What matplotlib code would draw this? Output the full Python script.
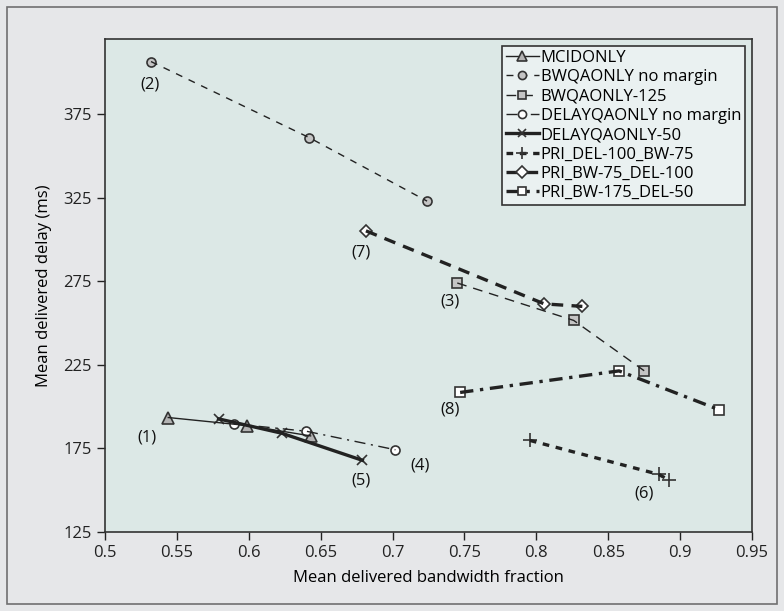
import matplotlib.pyplot as plt
from matplotlib.patches import Rectangle

plt.rcParams['font.family'] = ['Open Sans', 'DejaVu Sans']

# series data (bandwidth fraction, delay ms)
mcid_x = [0.544, 0.599, 0.643]
mcid_y = [193.5, 188.7, 182.5]
bwq_nm_x = [0.532, 0.642, 0.724]
bwq_nm_y = [406.5, 361, 323]
bwq125_x = [0.745, 0.826, 0.875]
bwq125_y = [274, 251.6, 221.5]
dq_nm_x = [0.590, 0.640, 0.702]
dq_nm_y = [189.7, 185.3, 174.2]
dq50_x = [0.579, 0.623, 0.679]
dq50_y = [192.7, 184.1, 167.9]
pri1_x = [0.7955, 0.885, 0.8925]
pri1_y = [179.8, 159.5, 156]
pri2_x = [0.6815, 0.8055, 0.832]
pri2_y = [305.2, 261.5, 260]
pri3_x = [0.747, 0.8575, 0.927]
pri3_y = [208.5, 221.4, 198.2]

labels = ['(1)', '(2)', '(3)', '(4)', '(5)', '(6)', '(7)', '(8)']
label_x = [0.529, 0.531, 0.740, 0.719, 0.678, 0.875, 0.678, 0.740]
label_y = [181.5, 393, 262.7, 165, 156, 148, 292.4, 198.2]

fig = plt.figure(figsize=(7.84, 6.11), dpi=100, facecolor='#e6e7e9')
fig.patches.append(Rectangle((7 / 784, 7 / 611), 770 / 784, 597 / 611, transform=fig.transFigure,
                             fill=False, edgecolor='#707070', linewidth=1.2))
ax = fig.add_axes([105 / 784, 79 / 611, 647 / 784, 493 / 611])
ax.set_facecolor('#dce8e6')

dark = '#222222'
series = [
    (mcid_x, mcid_y, 'MCIDONLY', '-', 1.0, '^', '#b3b3b3', 8),
    (bwq_nm_x, bwq_nm_y, 'BWQAONLY no margin', (0, (5, 5)), 1.0, 'o', '#c4c4c4', 6.5),
    (bwq125_x, bwq125_y, 'BWQAONLY-125', (0, (7, 5)), 1.0, 's', '#c4c4c4', 7),
    (dq_nm_x, dq_nm_y, 'DELAYQAONLY no margin', (0, (8, 4, 1.5, 4)), 1.0, 'o', 'white', 6.5),
    (dq50_x, dq50_y, 'DELAYQAONLY-50', '-', 2.4, 'x', 'none', 7),
    (pri1_x, pri1_y, 'PRI_DEL-100_BW-75', (0, (2, 2)), 2.4, '+', 'none', 10),
    (pri2_x, pri2_y, 'PRI_BW-75_DEL-100', (0, (3.5, 2.5)), 2.4, 'D', 'white', 6.5),
    (pri3_x, pri3_y, 'PRI_BW-175_DEL-50', (0, (4, 2, 1, 2)), 2.4, 's', 'white', 7),
]

handles = []
for xs, ys, name, ls, lw, mk, fc, ms in series:
    ax.plot(xs, ys, linestyle='none', marker=mk, markersize=ms, markerfacecolor=fc,
            markeredgecolor='#333333', markeredgewidth=1.2, zorder=2)
    ax.plot(xs, ys, linestyle=ls, linewidth=lw, color=dark, zorder=3)
    h, = ax.plot([], [], linestyle=ls, linewidth=lw, color=dark, marker=mk, markersize=ms * 0.9,
                 markerfacecolor=fc, markeredgecolor='#333333', markeredgewidth=1.2)
    handles.append(h)

for t, x, y in zip(labels, label_x, label_y):
    ax.text(x, y, t, fontsize=12, ha='center', va='center', color='#111111')

ax.set_xlim(0.5, 0.95)
ax.set_ylim(125, 420)
ax.set_xticks([0.5, 0.55, 0.6, 0.65, 0.7, 0.75, 0.8, 0.85, 0.9, 0.95])
ax.set_xticklabels(['0.5', '0.55', '0.6', '0.65', '0.7', '0.75', '0.8', '0.85', '0.9', '0.95'])
ax.set_yticks([125, 175, 225, 275, 325, 375])
ax.tick_params(direction='out', length=6, width=1, labelsize=12, colors='#222222')
for s in ax.spines.values():
    s.set_color('#333333')
    s.set_linewidth(1.2)
ax.set_xlabel('Mean delivered bandwidth fraction', fontsize=12, labelpad=6)
ax.set_ylabel('Mean delivered delay (ms)', fontsize=12, labelpad=8)

leg = ax.legend(handles, [s[2] for s in series], loc='upper right', fontsize=12,
                handlelength=2.0, handletextpad=0.1, labelspacing=0.2, borderpad=0.25,
                borderaxespad=0.4, fancybox=False, framealpha=1, facecolor='#eaf1f1',
                edgecolor='#333333')
leg.get_frame().set_linewidth(1.2)

plt.savefig('out.png', dpi=100, facecolor=fig.get_facecolor())
